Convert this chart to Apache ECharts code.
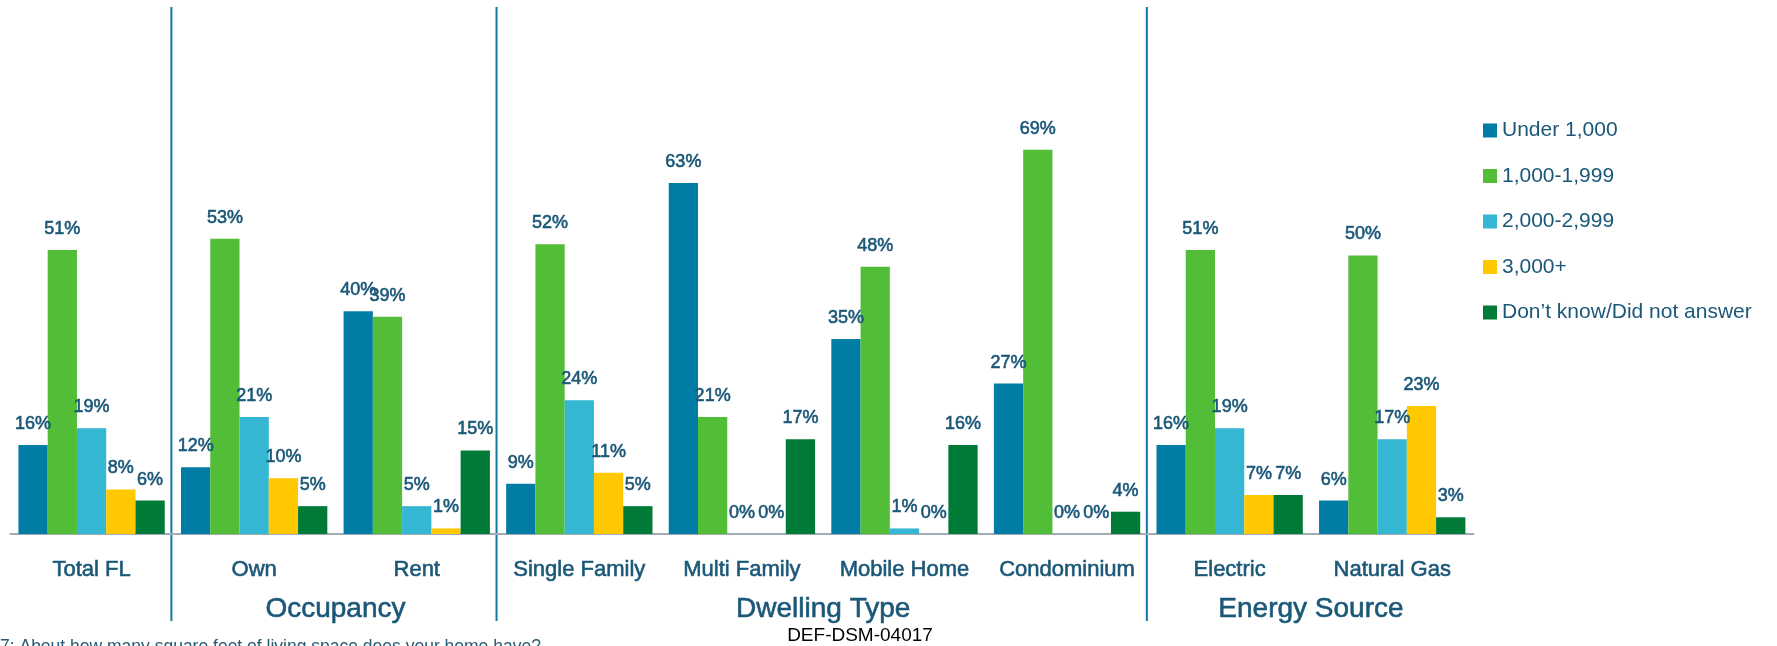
<!DOCTYPE html>
<html lang="en">
<head>
    <meta charset="UTF-8">
    <title>Living space</title>
    <script src="https://cdn.jsdelivr.net/npm/echarts@6/dist/echarts.min.js"></script>
    <style>
        body {
            margin: 0;
            background: #fff;
        }

        #chart {
            width: 1777px;
            height: 646px;
        }
    </style>
</head>
<body>
    <div id="chart"></div>

    <script>
        const categories = ['Total FL', 'Own', 'Rent', 'Single Family', 'Multi Family', 'Mobile Home', 'Condominium', 'Electric', 'Natural Gas']
        const seriesNames = ['Under 1,000', '1,000-1,999', '2,000-2,999', '3,000+', 'Don’t know/Did not answer']
        const under1000 = [16, 12, 40, 9, 63, 35, 27, 16, 6]
        const from1000 = [51, 53, 39, 52, 21, 48, 69, 51, 50]
        const from2000 = [19, 21, 5, 24, 0, 1, 0, 19, 17]
        const over3000 = [8, 10, 1, 11, 0, 0, 0, 7, 23]
        const dontKnow = [6, 5, 15, 5, 17, 16, 4, 7, 3]
        // group name, first category, category after the last one
        const groups = [['Occupancy', 1, 3], ['Dwelling Type', 3, 7], ['Energy Source', 7, 9]]
        const footnote = '7: About how many square feet of living space does your home have?'
        const docId = 'DEF-DSM-04017'

        const colors = ['#007ca5', '#52be37', '#35b6d2', '#ffc800', '#007a37']
        const font = "'Liberation Sans', Arial, sans-serif"
        const textColor = '#1b5878'

        var chart = echarts.init(document.getElementById('chart'))

        const values = [under1000, from1000, from2000, over3000, dontKnow]

        var option = {
            animation: false,
            color: colors,
            legend: {
                orient: 'vertical',
                left: 1478,
                top: 114.5,
                itemWidth: 14,
                itemHeight: 14,
                itemGap: 23.5,
                icon: 'rect',
                textStyle: {
                    fontFamily: font,
                    fontSize: 21,
                    lineHeight: 22,
                    color: textColor
                },
                data: seriesNames
            },
            grid: {
                left: 10.3,
                right: 303.5,
                top: 88.4,
                bottom: 112
            },
            xAxis: {
                type: 'category',
                data: categories,
                axisLine: {
                    lineStyle: { color: '#a3acb5', width: 2 }
                },
                axisTick: {
                    length: 8,
                    lineStyle: { color: '#a3acb5', width: 2 }
                },
                axisLabel: {
                    margin: 25,
                    fontFamily: font,
                    fontSize: 22,
                    lineHeight: 22,
                    color: textColor,
                    textBorderColor: textColor,
                    textBorderWidth: 0.6,
                    interval: 0
                }
            },
            yAxis: {
                type: 'value',
                min: 0,
                max: 80,
                show: false
            },
            series: seriesNames.map((name, i) => ({
                name: name,
                type: 'bar',
                data: values[i],
                barGap: 0,
                barCategoryGap: '10%',
                label: {
                    show: true,
                    position: 'top',
                    distance: 12,
                    formatter: '{c}%',
                    fontFamily: font,
                    fontSize: 18,
                    color: textColor,
                    textBorderColor: textColor,
                    textBorderWidth: 0.6
                }
            }))
        }

        chart.setOption(option)

        // separators and group titles placed from the axis scale
        const center = i => chart.convertToPixel({ xAxisIndex: 0 }, i)
        const step = center(1) - center(0)
        const edge = i => center(i) - step / 2

        const graphics = []
        groups.forEach(g => {
            graphics.push({
                type: 'line',
                shape: { x1: edge(g[1]) - 1.5, y1: 7, x2: edge(g[1]) - 1.5, y2: 621 },
                style: { stroke: '#0e7aa2', lineWidth: 2 }
            })
            graphics.push({
                type: 'text',
                x: (edge(g[1]) + edge(g[2])) / 2,
                y: 609,
                style: {
                    text: g[0],
                    fontFamily: font,
                    fontSize: 28,
                    fill: textColor,
                    stroke: textColor,
                    lineWidth: 0.6,
                    textAlign: 'center',
                    textVerticalAlign: 'middle'
                }
            })
        })
        graphics.push({
            type: 'text',
            x: 860,
            y: 636,
            style: {
                text: docId,
                fontFamily: font,
                fontSize: 19,
                fill: '#000',
                textAlign: 'center',
                textVerticalAlign: 'middle'
            }
        })
        graphics.push({
            type: 'text',
            x: 0,
            y: 638,
            style: {
                text: footnote,
                fontFamily: font,
                fontSize: 17.5,
                fill: '#2a5b72',
                textAlign: 'left',
                textVerticalAlign: 'top'
            }
        })

        chart.setOption({ graphic: graphics })
    </script>
</body>
</html>
